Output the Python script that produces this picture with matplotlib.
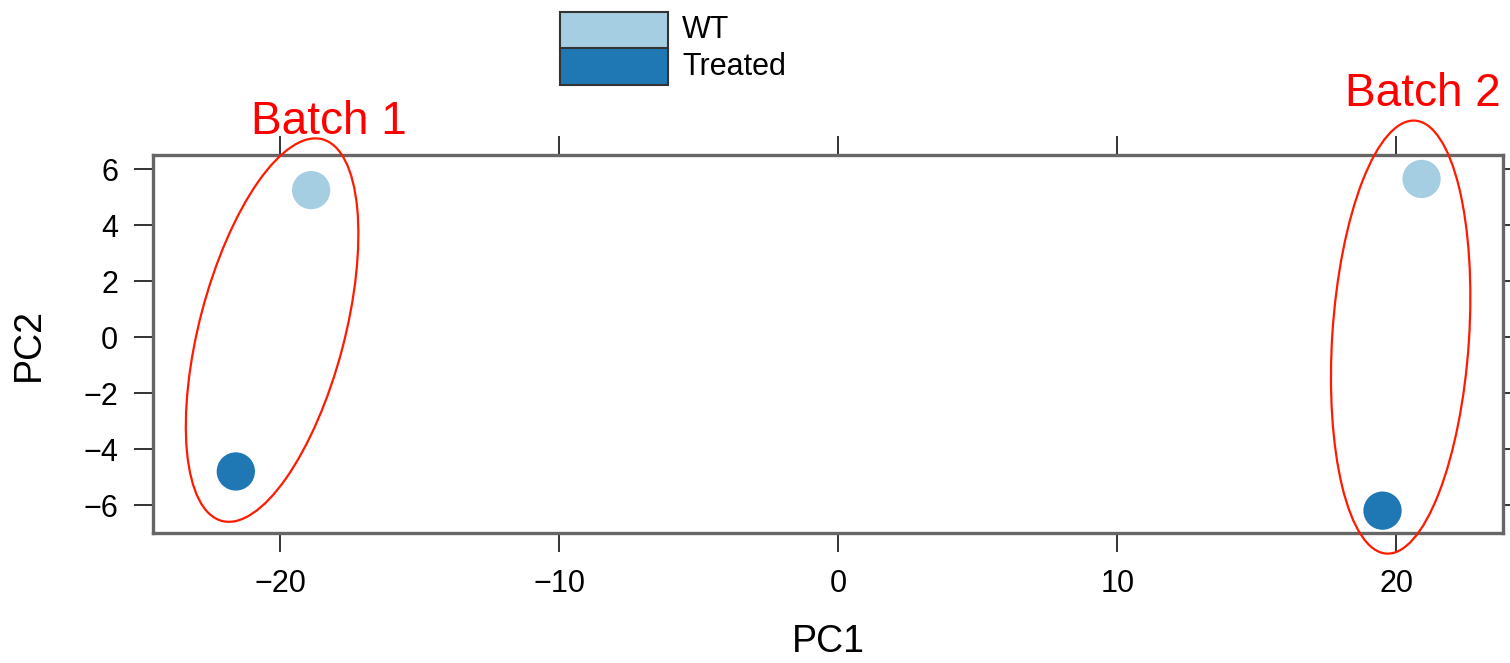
import matplotlib
matplotlib.use("Agg")
import matplotlib.pyplot as plt
from matplotlib.patches import Ellipse, Rectangle

plt.rcParams["font.family"] = ["Liberation Sans", "DejaVu Sans"]

# PCA scores
groups = ["WT", "Treated"]
colors = ["#a6cee3", "#1f78b4"]
pc1_wt = [-18.9, 20.9]
pc2_wt = [5.25, 5.65]
pc1_treated = [-21.6, 19.5]
pc2_treated = [-4.8, -6.2]

xticks = [-20, -10, 0, 10, 20]
yticks = [-6, -4, -2, 0, 2, 4, 6]

# batch ellipses: label, centre x, centre y, width, height, angle
batches = [
    ("Batch 1", -20.3, 0.25, 5.2, 14.1, -14.8),
    ("Batch 2", 20.15, 0.0, 4.9, 15.5, -3.8),
]

fig = plt.figure(figsize=(15.1, 6.63), dpi=100)
ax = fig.add_axes([0.1013, 0.196, 0.8941, 0.570])

ax.scatter(pc1_wt, pc2_wt, s=760, color=colors[0], edgecolors="none", zorder=3)
ax.scatter(pc1_treated, pc2_treated, s=760, color=colors[1], edgecolors="none", zorder=3)

for label, cx, cy, w, h, ang in batches:
    ax.add_patch(Ellipse((cx, cy), w, h, angle=ang, fill=False,
                         edgecolor="#ff1a00", lw=1.6, clip_on=False, zorder=4))

ax.text(-18.25, 7.7, "Batch 1", color="red", fontsize=33, ha="center", va="center")
ax.text(20.95, 8.7, "Batch 2", color="red", fontsize=33, ha="center", va="center")

ax.set_xlim(-24.57, 23.82)
ax.set_ylim(-7.0, 6.5)
ax.set_xticks(xticks)
ax.set_yticks(yticks)
ax.tick_params(axis="both", direction="out", length=14, width=1.4, color="#333333",
               labelsize=22, top=True, right=True)
ax.tick_params(axis="x", pad=12)
ax.tick_params(axis="y", pad=11)
for sp in ax.spines.values():
    sp.set_color("#666666")
    sp.set_linewidth(2.4)

ax.set_xlabel("PC1", fontsize=27, labelpad=18)
ax.set_ylabel("PC2", fontsize=27, labelpad=26)

# legend: two stacked boxes above the panel
box_x, box_w, box_h = 560 / 1510, 108 / 1510, 36.5 / 663
top = 1 - 12 / 663
for i, (g, c) in enumerate(zip(groups, colors)):
    y0 = top - (i + 1) * box_h
    fig.patches.append(Rectangle((box_x, y0), box_w, box_h, transform=fig.transFigure,
                                 facecolor=c, edgecolor="#333333", lw=1.5))
    fig.text(box_x + box_w + 14 / 1510, y0 + box_h / 2, g, fontsize=22,
             ha="left", va="center")

fig.savefig("out.png", dpi=100)
